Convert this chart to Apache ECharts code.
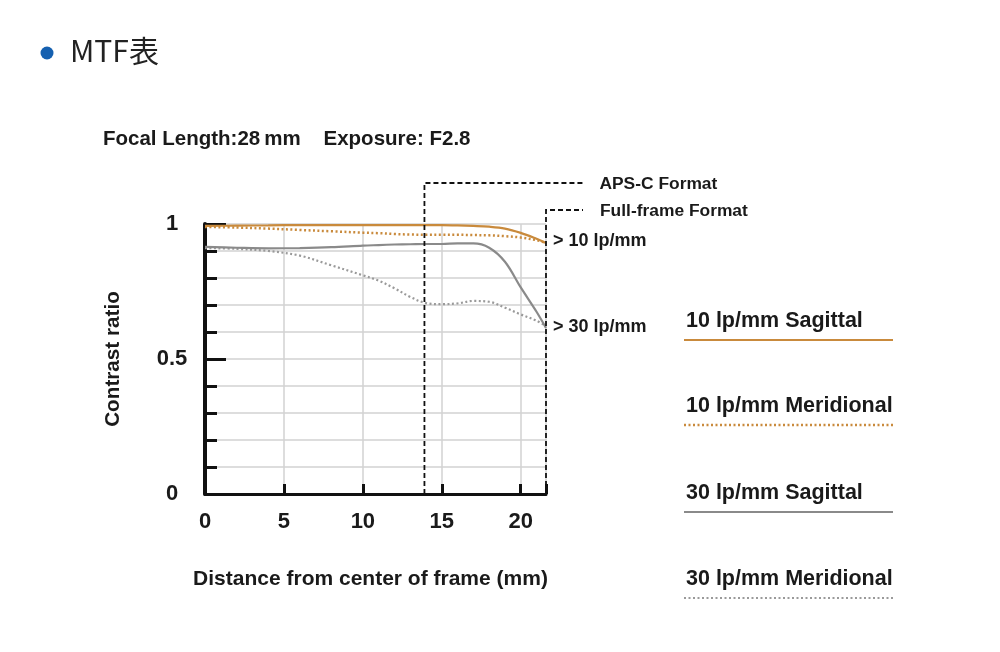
<!DOCTYPE html>
<html><head><meta charset="utf-8">
<script src="https://cdn.jsdelivr.net/npm/echarts@6/dist/echarts.min.js"></script>
<style>html,body{margin:0;padding:0;background:#fff}#c{width:1000px;height:652px}</style>
</head><body><div id="c"></div>
<script>
// ---- data ----
const distance = [0, 2, 4, 6, 8, 10, 11, 12, 13, 14, 15, 16, 17, 18, 19, 20, 21, 21.6];
const sag10 = [0.993, 0.994, 0.995, 0.996, 0.996, 0.996, 0.996, 0.996, 0.996, 0.996, 0.996, 0.995, 0.993, 0.990, 0.983, 0.967, 0.945, 0.930];
const mer10 = [0.989, 0.987, 0.983, 0.978, 0.973, 0.968, 0.966, 0.963, 0.961, 0.960, 0.960, 0.960, 0.959, 0.958, 0.955, 0.950, 0.940, 0.930];
const sag30 = [0.915, 0.912, 0.910, 0.911, 0.914, 0.920, 0.922, 0.924, 0.925, 0.926, 0.926, 0.928, 0.928, 0.912, 0.860, 0.765, 0.675, 0.615];
const mer30 = [0.911, 0.908, 0.900, 0.883, 0.847, 0.810, 0.790, 0.762, 0.730, 0.707, 0.703, 0.706, 0.715, 0.712, 0.690, 0.665, 0.642, 0.622];
const xTickValues = [0, 5, 10, 15, 20];
const yTickValues = [0, 0.5, 1];
const formatNames = ['APS-C Format', 'Full-frame Format'];
const formatEdges = [13.9, 21.6];
const seriesNames = ['10 lp/mm Sagittal', '10 lp/mm Meridional', '30 lp/mm Sagittal', '30 lp/mm Meridional'];
const endLabels = ['> 10 lp/mm', '> 30 lp/mm'];

// ---- styles ----
const ORANGE = '#c98a3c';
const GRAY = '#8a8a8a';
const GRAYDOT = '#9a9a9a';
const TXT = '#1a1a1a';
const FONT = '"Liberation Sans", Arial, sans-serif';
const styles = [
  {color: ORANGE, width: 2.2, type: 'solid'},
  {color: ORANGE, width: 2.5, type: [2, 2.5]},
  {color: GRAY, width: 2.2, type: 'solid'},
  {color: GRAYDOT, width: 2.2, type: [2, 2.5]}
];
const values = [sag10, mer10, sag30, mer30];

const chart = echarts.init(document.getElementById('c'), null, {renderer: 'canvas'});

const lineSeries = values.map((vals, i) => {
  const s = {
    name: seriesNames[i],
    type: 'line',
    data: distance.map((d, j) => [d, vals[j]]),
    symbol: 'none',
    smooth: 0.35,
    lineStyle: {color: styles[i].color, width: styles[i].width, type: styles[i].type, cap: 'butt'},
    z: 5 - i,
    silent: true
  };
  if (i === 1 || i === 2) {
    s.endLabel = {
      show: true,
      formatter: endLabels[i === 1 ? 0 : 1],
      color: TXT,
      fontFamily: FONT,
      fontWeight: 'bold',
      fontSize: 18,
      distance: 7,
      offset: [0, i === 1 ? -2 : -1]
    };
  }
  return s;
});

const formatSeries = {
  type: 'custom',
  coordinateSystem: 'cartesian2d',
  clip: false,
  silent: true,
  data: formatEdges.map((e, i) => [e, 0, i]),
  renderItem: function (params, api) {
    const x = api.value(0);
    const idx = api.value(2);
    const bottom = api.coord([x, 0]);
    const top1 = api.coord([x, 1]);
    const topY = top1[1] - (idx === 0 ? 41 : 14);
    const rightX = top1[0] + (idx === 0 ? 158 : 37);
    return {
      type: 'group',
      children: [
        {
          type: 'polyline',
          shape: {points: [[bottom[0], bottom[1]], [bottom[0], topY], [rightX, topY]]},
          style: {stroke: '#111', lineWidth: 1.8, lineDash: [5, 3], fill: null}
        },
        {
          type: 'text',
          style: {
            text: formatNames[idx], x: rightX + 17, y: topY + 1.5,
            verticalAlign: 'middle', fill: TXT, font: 'bold 17.4px ' + FONT
          }
        }
      ]
    };
  },
  z: 10
};

const legendGraphics = [];
const legendTextY = [319, 404, 491, 577];
const legendLineY = [340, 425, 512, 598];
seriesNames.forEach((n, i) => {
  legendGraphics.push({
    type: 'text', left: 686, top: legendTextY[i] - 9,
    style: {text: n, fill: TXT, font: 'bold 21.5px ' + FONT}
  });
  legendGraphics.push({
    type: 'line', shape: {x1: 684, y1: legendLineY[i], x2: 893, y2: legendLineY[i]},
    style: {stroke: styles[i].color, lineWidth: styles[i].width, lineDash: styles[i].type === 'solid' ? null : styles[i].type}
  });
});

const option = {
  backgroundColor: '#fff',
  animation: false,
  grid: {left: 205, right: 454, top: 224, bottom: 158, containLabel: false},
  xAxis: {
    type: 'value', min: 0, max: 21.6, interval: 5,
    name: 'Distance from center of frame (mm)',
    nameLocation: 'middle', nameGap: 75,
    nameTextStyle: {color: TXT, fontFamily: FONT, fontSize: 21, fontWeight: 'bold', padding: [0, 10, 0, 0]},
    axisLine: {show: true, onZero: false, lineStyle: {color: '#111', width: 3}},
    axisTick: {show: true, inside: true, length: 10, lineStyle: {color: '#111', width: 3}},
    axisLabel: {
      color: TXT, fontFamily: FONT, fontSize: 22, fontWeight: 'bold', margin: 17,
      formatter: v => (xTickValues.indexOf(v) >= 0 ? String(v) : '')
    },
    splitLine: {show: true, lineStyle: {color: '#d2d2d2', width: 1.5}}
  },
  yAxis: {
    type: 'value', min: 0, max: 1, interval: 0.5,
    name: 'Contrast ratio',
    nameLocation: 'middle', nameGap: 81,
    nameTextStyle: {color: TXT, fontFamily: FONT, fontSize: 20.7, fontWeight: 'bold'},
    axisLine: {show: true, lineStyle: {color: '#111', width: 4}},
    axisTick: {show: true, inside: true, length: 21, lineStyle: {color: '#111', width: 3}},
    minorTick: {show: true, splitNumber: 5, length: 12, lineStyle: {color: '#111', width: 3}},
    axisLabel: {
      color: TXT, fontFamily: FONT, fontSize: 22, fontWeight: 'bold', margin: 33, align: 'center',
      padding: [4, 0, 0, 0],
      formatter: v => (yTickValues.indexOf(v) >= 0 ? String(v) : '')
    },
    splitLine: {show: true, lineStyle: {color: '#d2d2d2', width: 1.5}},
    minorSplitLine: {show: true, lineStyle: {color: '#d2d2d2', width: 1.5}}
  },
  graphic: [
    {type: 'circle', shape: {cx: 47, cy: 53, r: 6.5}, style: {fill: '#1560b0'}},
    {type: 'text', left: 70, top: 36, style: {text: 'MTF表', fill: '#222', font: '400 30px "Noto Sans CJK JP", sans-serif'}},
    {type: 'text', left: 103, top: 129, style: {text: 'Focal Length:28\u2009mm    Exposure: F2.8', fill: TXT, font: 'bold 20.5px ' + FONT}}
  ].concat(legendGraphics),
  series: lineSeries.concat([formatSeries])
};
chart.setOption(option);
</script>
</body></html>
